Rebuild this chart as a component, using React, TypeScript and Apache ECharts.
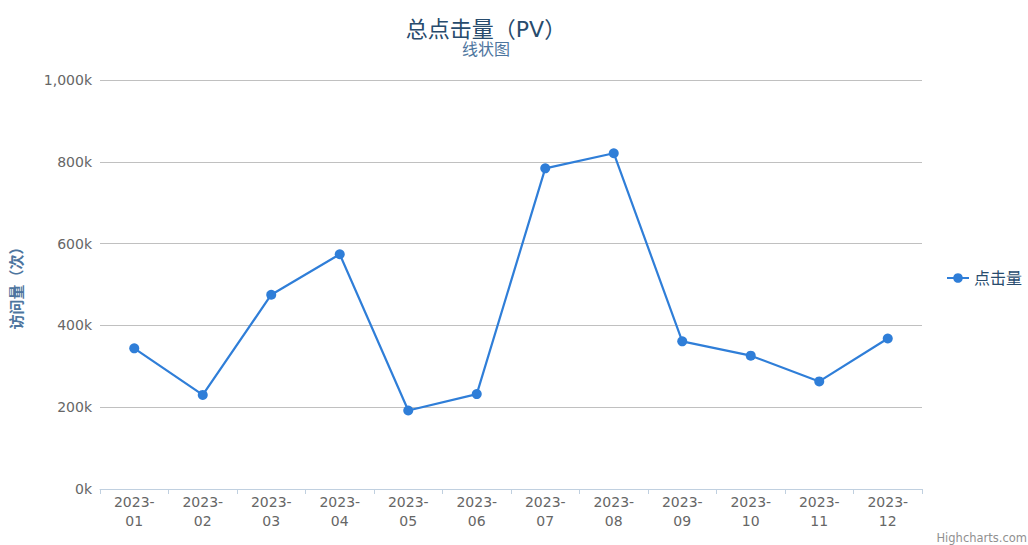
import React, { useEffect, useRef } from "react";
import * as echarts from "echarts";

const categories = ["2023-01", "2023-02", "2023-03", "2023-04", "2023-05", "2023-06", "2023-07", "2023-08", "2023-09", "2023-10", "2023-11", "2023-12"];
const pvValues = [344000, 230000, 475000, 574000, 192000, 232000, 784000, 821000, 361000, 326000, 263000, 368000];
const seriesName = "点击量";
const titleText = "总点击量（PV）";
const subtitleText = "线状图";
const yAxisTitle = "访问量（次）";
const creditsText = "Highcharts.com";

const FONT = "'DejaVu Sans', 'Noto Sans CJK SC', sans-serif";

export default function App() {
  const ref = useRef<HTMLDivElement>(null);
  useEffect(() => {
    if (!ref.current) return;
    const chart = echarts.init(ref.current, undefined, { renderer: "svg" });
    chart.setOption({
      animation: false,
      textStyle: { fontFamily: FONT },
      title: {
        text: titleText,
        subtext: subtitleText,
        left: 481,
        textAlign: "center",
        top: 13,
        itemGap: 1,
        textStyle: { color: "#274b6d", fontSize: 22, fontWeight: "normal", fontFamily: FONT },
        subtextStyle: { color: "#4d759e", fontSize: 16, fontFamily: FONT },
      },
      legend: {
        orient: "vertical",
        left: 946,
        top: 270,
        padding: 0,
        itemWidth: 22,
        itemHeight: 12,
        itemGap: 5,
        textStyle: { color: "#274b6d", fontSize: 16, fontFamily: FONT },
        data: [seriesName],
      },
      grid: { left: 100, right: 106, top: 80, bottom: 56, containLabel: false },
      xAxis: {
        type: "category",
        data: categories,
        boundaryGap: true,
        axisLine: { show: true, lineStyle: { color: "#C0D0E0", width: 1 } },
        axisTick: { show: true, length: 5, alignWithLabel: false, lineStyle: { color: "#C0D0E0" } },
        axisLabel: {
          color: "#666666",
          fontSize: 14,
          lineHeight: 19,
          margin: 3,
          interval: 0,
          fontFamily: FONT,
          formatter: (v: string) => v.replace("-", "-\n"),
        },
      },
      yAxis: {
        type: "value",
        min: 0,
        max: 1000000,
        interval: 200000,
        name: yAxisTitle,
        nameLocation: "middle",
        nameGap: 76,
        nameRotate: 90,
        nameTextStyle: { color: "#4d759e", fontSize: 15, fontWeight: "bold", fontFamily: FONT },
        axisLine: { show: false },
        axisTick: { show: false },
        splitLine: { show: true, lineStyle: { color: "#C0C0C0", width: 1 } },
        axisLabel: {
          color: "#666666",
          fontSize: 14,
          margin: 8,
          fontFamily: FONT,
          formatter: (v: number) => (v / 1000).toLocaleString("en-US") + "k",
        },
      },
      series: [
        {
          name: seriesName,
          type: "line",
          data: pvValues,
          symbol: "circle",
          symbolSize: 10,
          showSymbol: true,
          lineStyle: { color: "#2f7ed8", width: 2.2 },
          itemStyle: { color: "#2f7ed8" },
        },
      ],
      graphic: [
        {
          type: "text",
          right: 1,
          bottom: 1,
          style: { text: creditsText, fill: "#909090", fontSize: 11.5, fontFamily: FONT },
        },
      ],
    });
    return () => chart.dispose();
  }, []);
  return <div ref={ref} style={{ width: 1028, height: 545, position: "absolute", left: 0, top: 0 }} />;
}
